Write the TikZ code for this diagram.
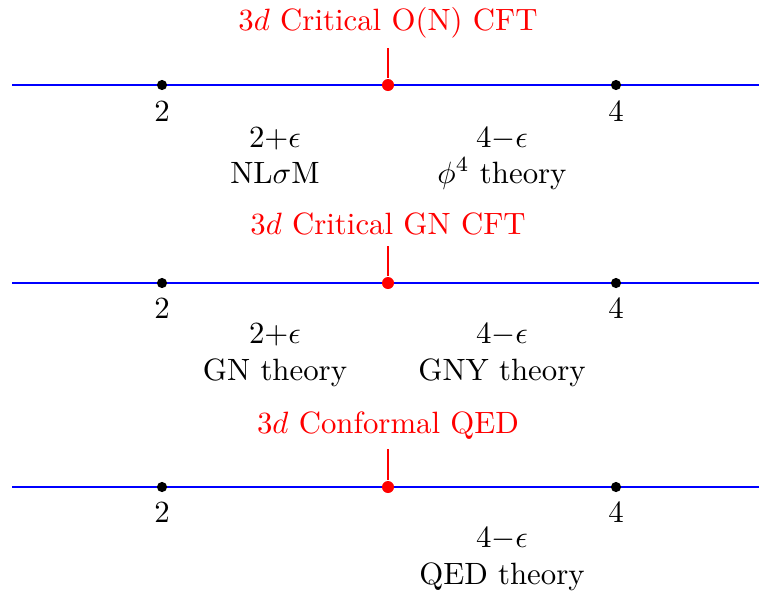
\documentclass[tikz,border=0pt]{standalone}
\begin{document}
\begin{tikzpicture}[x=0.3245pt,y=-0.3245pt,
  axis/.style={blue,line width=0.8pt},
  tick/.style={red,line width=0.4pt},
  bdot/.style={circle,fill=black,inner sep=0pt,minimum size=3.3pt},
  rdot/.style={circle,fill=red,inner sep=0pt,minimum size=3.9pt},
  lab/.style={anchor=base,inner sep=0pt,font=\fontsize{10}{12}\selectfont},
  rlab/.style={lab,text=red}]
\useasboundingbox (0,0) rectangle (759,590);
% ---------- row 1 ----------
\coordinate (L1) at (12,85);
\coordinate (R1) at (759,85);
\draw[axis] (L1) -- (R1);
\coordinate (T1) at (388,48);
\node[rdot] (C1) at (388,85) {};
\draw[tick] (T1) -- (C1);
\node[bdot] (A1) at (162,85) {};
\node[bdot] (B1) at (616,85) {};
\node[rlab] (H1) at (388,30) {$3d$ Critical O(N) CFT};
\node[lab] (n21) at (162,121) {2};
\node[lab] (n41) at (616,121) {4};
\node[lab] (e21) at (275,147) {$2{+}\epsilon$};
\node[lab] (t21) at (275,183) {NL$\sigma$M};
\node[lab] (e41) at (502,147) {$4{-}\epsilon$};
\node[lab] (t41) at (502,183) {$\phi^4$ theory};
% ---------- row 2 ----------
\coordinate (L2) at (12,283);
\coordinate (R2) at (759,283);
\draw[axis] (L2) -- (R2);
\coordinate (T2) at (388,246);
\node[rdot] (C2) at (388,283) {};
\draw[tick] (T2) -- (C2);
\node[bdot] (A2) at (162,283) {};
\node[bdot] (B2) at (616,283) {};
\node[rlab] (H2) at (388,234) {$3d$ Critical GN CFT};
\node[lab] (n22) at (162,318) {2};
\node[lab] (n42) at (616,318) {4};
\node[lab] (e22) at (275,343) {$2{+}\epsilon$};
\node[lab] (t22) at (275,380) {GN theory};
\node[lab] (e42) at (502,343) {$4{-}\epsilon$};
\node[lab] (t42) at (502,380) {GNY theory};
% ---------- row 3 ----------
\coordinate (L3) at (12,487);
\coordinate (R3) at (759,487);
\draw[axis] (L3) -- (R3);
\coordinate (T3) at (388,449);
\node[rdot] (C3) at (388,487) {};
\draw[tick] (T3) -- (C3);
\node[bdot] (A3) at (162,487) {};
\node[bdot] (B3) at (616,487) {};
\node[rlab] (H3) at (388,433) {$3d$ Conformal QED};
\node[lab] (n23) at (162,522) {2};
\node[lab] (n43) at (616,522) {4};
\node[lab] (e43) at (502,547) {$4{-}\epsilon$};
\node[lab] (t43) at (502,584) {QED theory};
\end{tikzpicture}
\end{document}
